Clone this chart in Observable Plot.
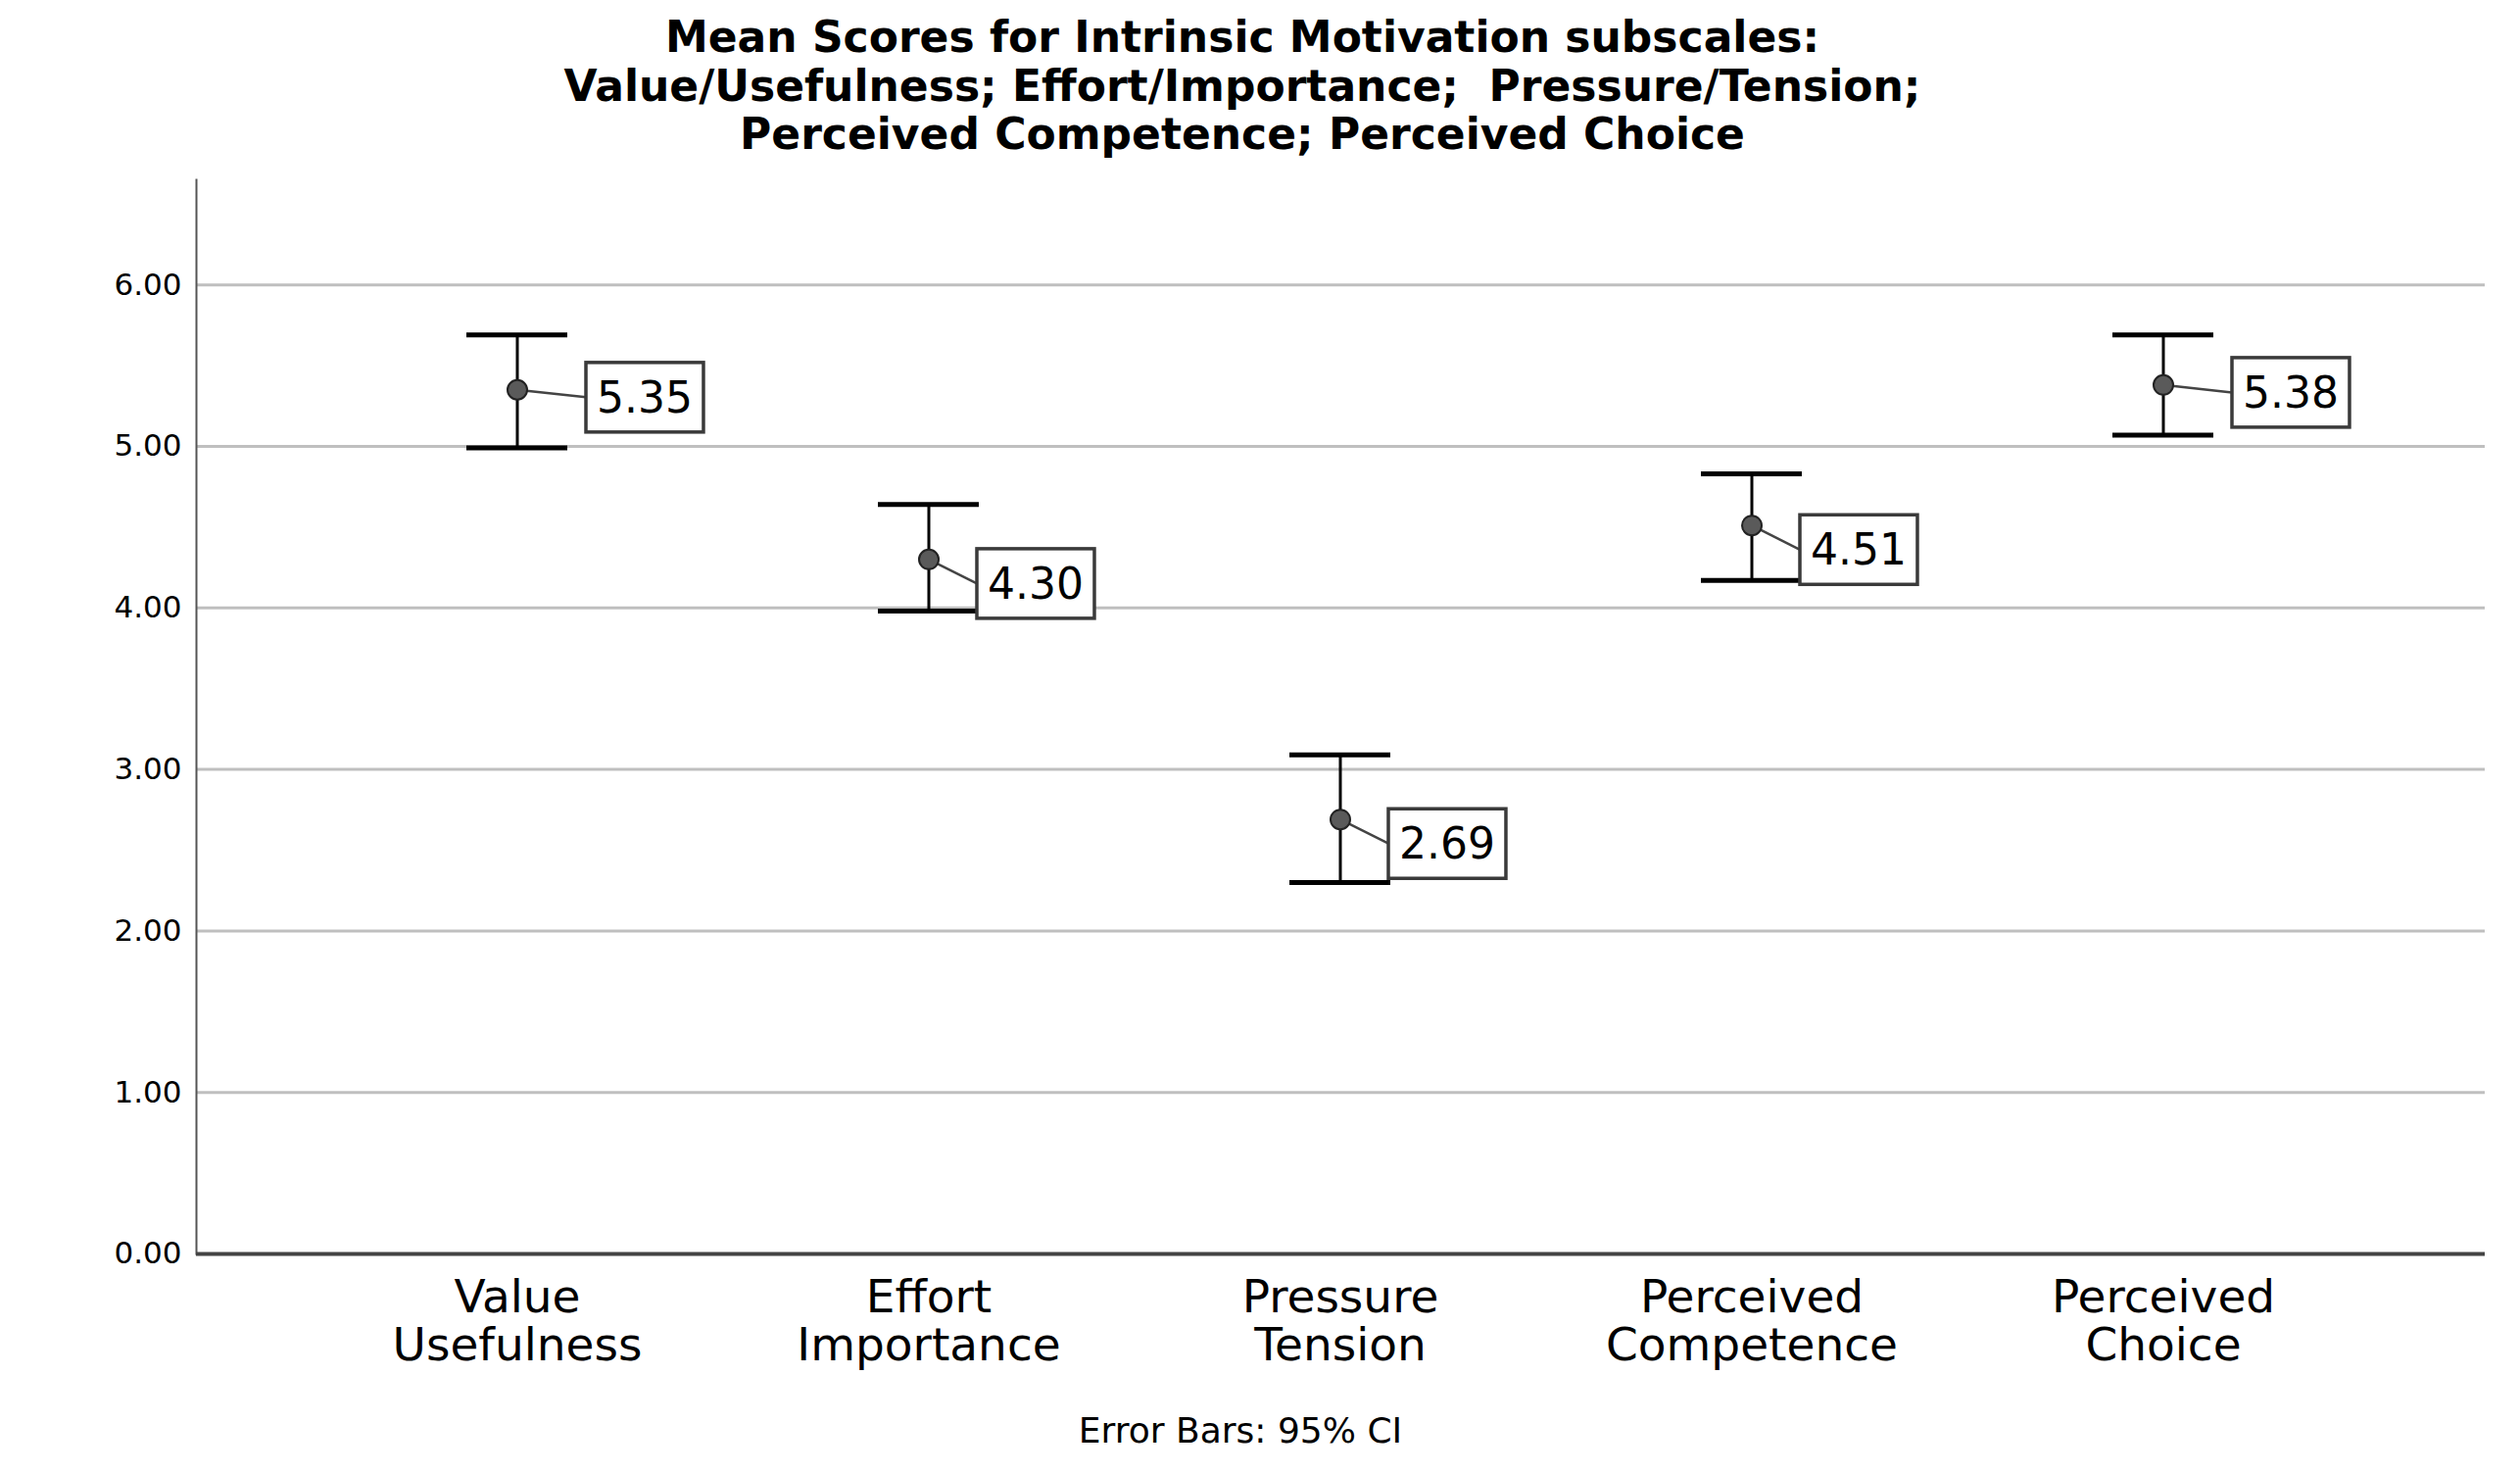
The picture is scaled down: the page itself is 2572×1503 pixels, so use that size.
<!DOCTYPE html>
<html>
<head>
<meta charset="utf-8">
<script src="https://cdn.jsdelivr.net/npm/d3@7"></script>
<script src="https://cdn.jsdelivr.net/npm/@observablehq/plot@0.6"></script>
<style>
  html, body { margin: 0; padding: 0; background: #fff; }
  #page { position: relative; width: 2572px; height: 1503px; background: #fff; font-family: "DejaVu Sans", sans-serif; color: #000; overflow: hidden; }
  #title { position: absolute; top: 13px; left: 1268px; transform: translateX(-50%); text-align: center; font-weight: bold; font-size: 44px; line-height: 49.5px; white-space: nowrap; }
  #ylabel { position: absolute; left: 45px; top: 730px; transform: translate(-50%, -50%) rotate(-90deg); font-weight: bold; font-size: 42px; line-height: 42px; white-space: nowrap; }
  #caption { position: absolute; top: 1440px; left: 1266px; transform: translateX(-50%); font-size: 36px; line-height: 40px; white-space: nowrap; }
  #chart { position: absolute; top: 173px; left: 0; }
</style>
</head>
<body>
<div id="page">
  <div id="title">Mean Scores for Intrinsic Motivation subscales:<br>Value/Usefulness; Effort/Importance;&nbsp; Pressure/Tension;<br>Perceived Competence; Perceived Choice</div>
  <div id="ylabel">Mean</div>
  <div id="chart"></div>
  <div id="caption">Error Bars: 95% CI</div>
</div>
<script>
// ---- data ----
const categories = ["Value Usefulness", "Effort Importance", "Pressure Tension", "Perceived Competence", "Perceived Choice"];
const tickLabels = ["Value\nUsefulness", "Effort\nImportance", "Pressure\nTension", "Perceived\nCompetence", "Perceived\nChoice"];
const means = [5.35, 4.30, 2.69, 4.51, 5.38];
const ciLower = [4.99, 3.98, 2.30, 4.17, 5.07];
const ciUpper = [5.69, 4.64, 3.09, 4.83, 5.69];
const yTicks = [0, 1, 2, 3, 4, 5, 6];

const data = categories.map((c, i) => ({cat: c, label: tickLabels[i], mean: means[i], lo: ciLower[i], hi: ciUpper[i]}));
const fmt = d3.format(".2f");
const labelOf = new Map(data.map(d => [d.cat, d.label]));
const highGroup = data.filter(d => d.mean > 5);
const lowGroup = data.filter(d => d.mean <= 5);

const chart = Plot.plot({
  width: 2572,
  height: 1247,
  marginLeft: 200,
  marginRight: 36,
  marginTop: 10,
  marginBottom: 141,
  style: {fontFamily: "DejaVu Sans", color: "#000", background: "#fff", overflow: "visible"},
  x: {type: "band", domain: categories, padding: 0.549},
  y: {domain: [0, 6.65]},
  marks: [
    Plot.gridY(yTicks.filter(t => t > 0), {stroke: "#bfbfbf", strokeOpacity: 1, strokeWidth: 3}),
    Plot.frame({anchor: "left", stroke: "#555", strokeWidth: 2}),
    Plot.ruleY([0], {stroke: "#444", strokeWidth: 4}),
    Plot.axisY({ticks: yTicks, tickFormat: fmt, tickSize: 0, tickPadding: 15, fontSize: 31, label: null}),
    Plot.axisX({tickSize: 0, tickPadding: 24, fontSize: 47, lineHeight: 1.05, tickFormat: c => labelOf.get(c), label: null}),
    Plot.ruleX(data, {x: "cat", y1: "lo", y2: "hi", stroke: "#000", strokeWidth: 3}),
    Plot.tickY(data, {x: "cat", y: "lo", insetLeft: 43, insetRight: 43, stroke: "#000", strokeWidth: 5}),
    Plot.tickY(data, {x: "cat", y: "hi", insetLeft: 43, insetRight: 43, stroke: "#000", strokeWidth: 5}),
    Plot.dot(data, {x: "cat", y: "mean", r: 10, fill: "#5a5a5a", stroke: "#222", strokeWidth: 2}),
    Plot.text(highGroup, {x: "cat", y: "mean", text: d => fmt(d.mean), textAnchor: "start", dx: 81, dy: 9, fontSize: 44, fill: "#000"}),
    Plot.text(lowGroup, {x: "cat", y: "mean", text: d => fmt(d.mean), textAnchor: "start", dx: 60, dy: 26, fontSize: 44, fill: "#000"})
  ]
});
document.getElementById("chart").appendChild(chart);

// ---- value label boxes and leader lines (geometry taken from the rendered marks) ----
const ns = "http://www.w3.org/2000/svg";
const sRect = chart.getBoundingClientRect();
const dotG = chart.querySelector('g[aria-label="dot"]');
const dots = [...dotG.querySelectorAll("circle")].map(c => {
  const r = c.getBoundingClientRect();
  return {x: (r.left + r.right) / 2 - sRect.left, y: (r.top + r.bottom) / 2 - sRect.top};
});
const textGs = [...chart.querySelectorAll('g[aria-label="text"]')];
const lineG = document.createElementNS(ns, "g");
const boxG = document.createElementNS(ns, "g");
textGs.forEach(g => g.querySelectorAll("text").forEach(t => {
  const r = t.getBoundingClientRect();
  const bx = r.left - sRect.left - 11, by = r.top - sRect.top - 10;
  const bw = r.width + 22, bh = r.height + 20;
  let best = null;
  dots.forEach(d => { if (d.x < bx && (!best || bx - d.x < bx - best.x)) best = d; });
  const rect = document.createElementNS(ns, "rect");
  rect.setAttribute("x", bx); rect.setAttribute("y", by);
  rect.setAttribute("width", bw); rect.setAttribute("height", bh);
  rect.setAttribute("fill", "#fff"); rect.setAttribute("stroke", "#3a3a3a"); rect.setAttribute("stroke-width", 3.5);
  boxG.appendChild(rect);
  if (best) {
    const ln = document.createElementNS(ns, "line");
    ln.setAttribute("x1", best.x); ln.setAttribute("y1", best.y);
    ln.setAttribute("x2", bx); ln.setAttribute("y2", by + bh / 2);
    ln.setAttribute("stroke", "#444"); ln.setAttribute("stroke-width", 2.5);
    lineG.appendChild(ln);
  }
}));
dotG.parentNode.insertBefore(lineG, dotG);
textGs[0].parentNode.insertBefore(boxG, textGs[0]);
</script>
</body>
</html>
